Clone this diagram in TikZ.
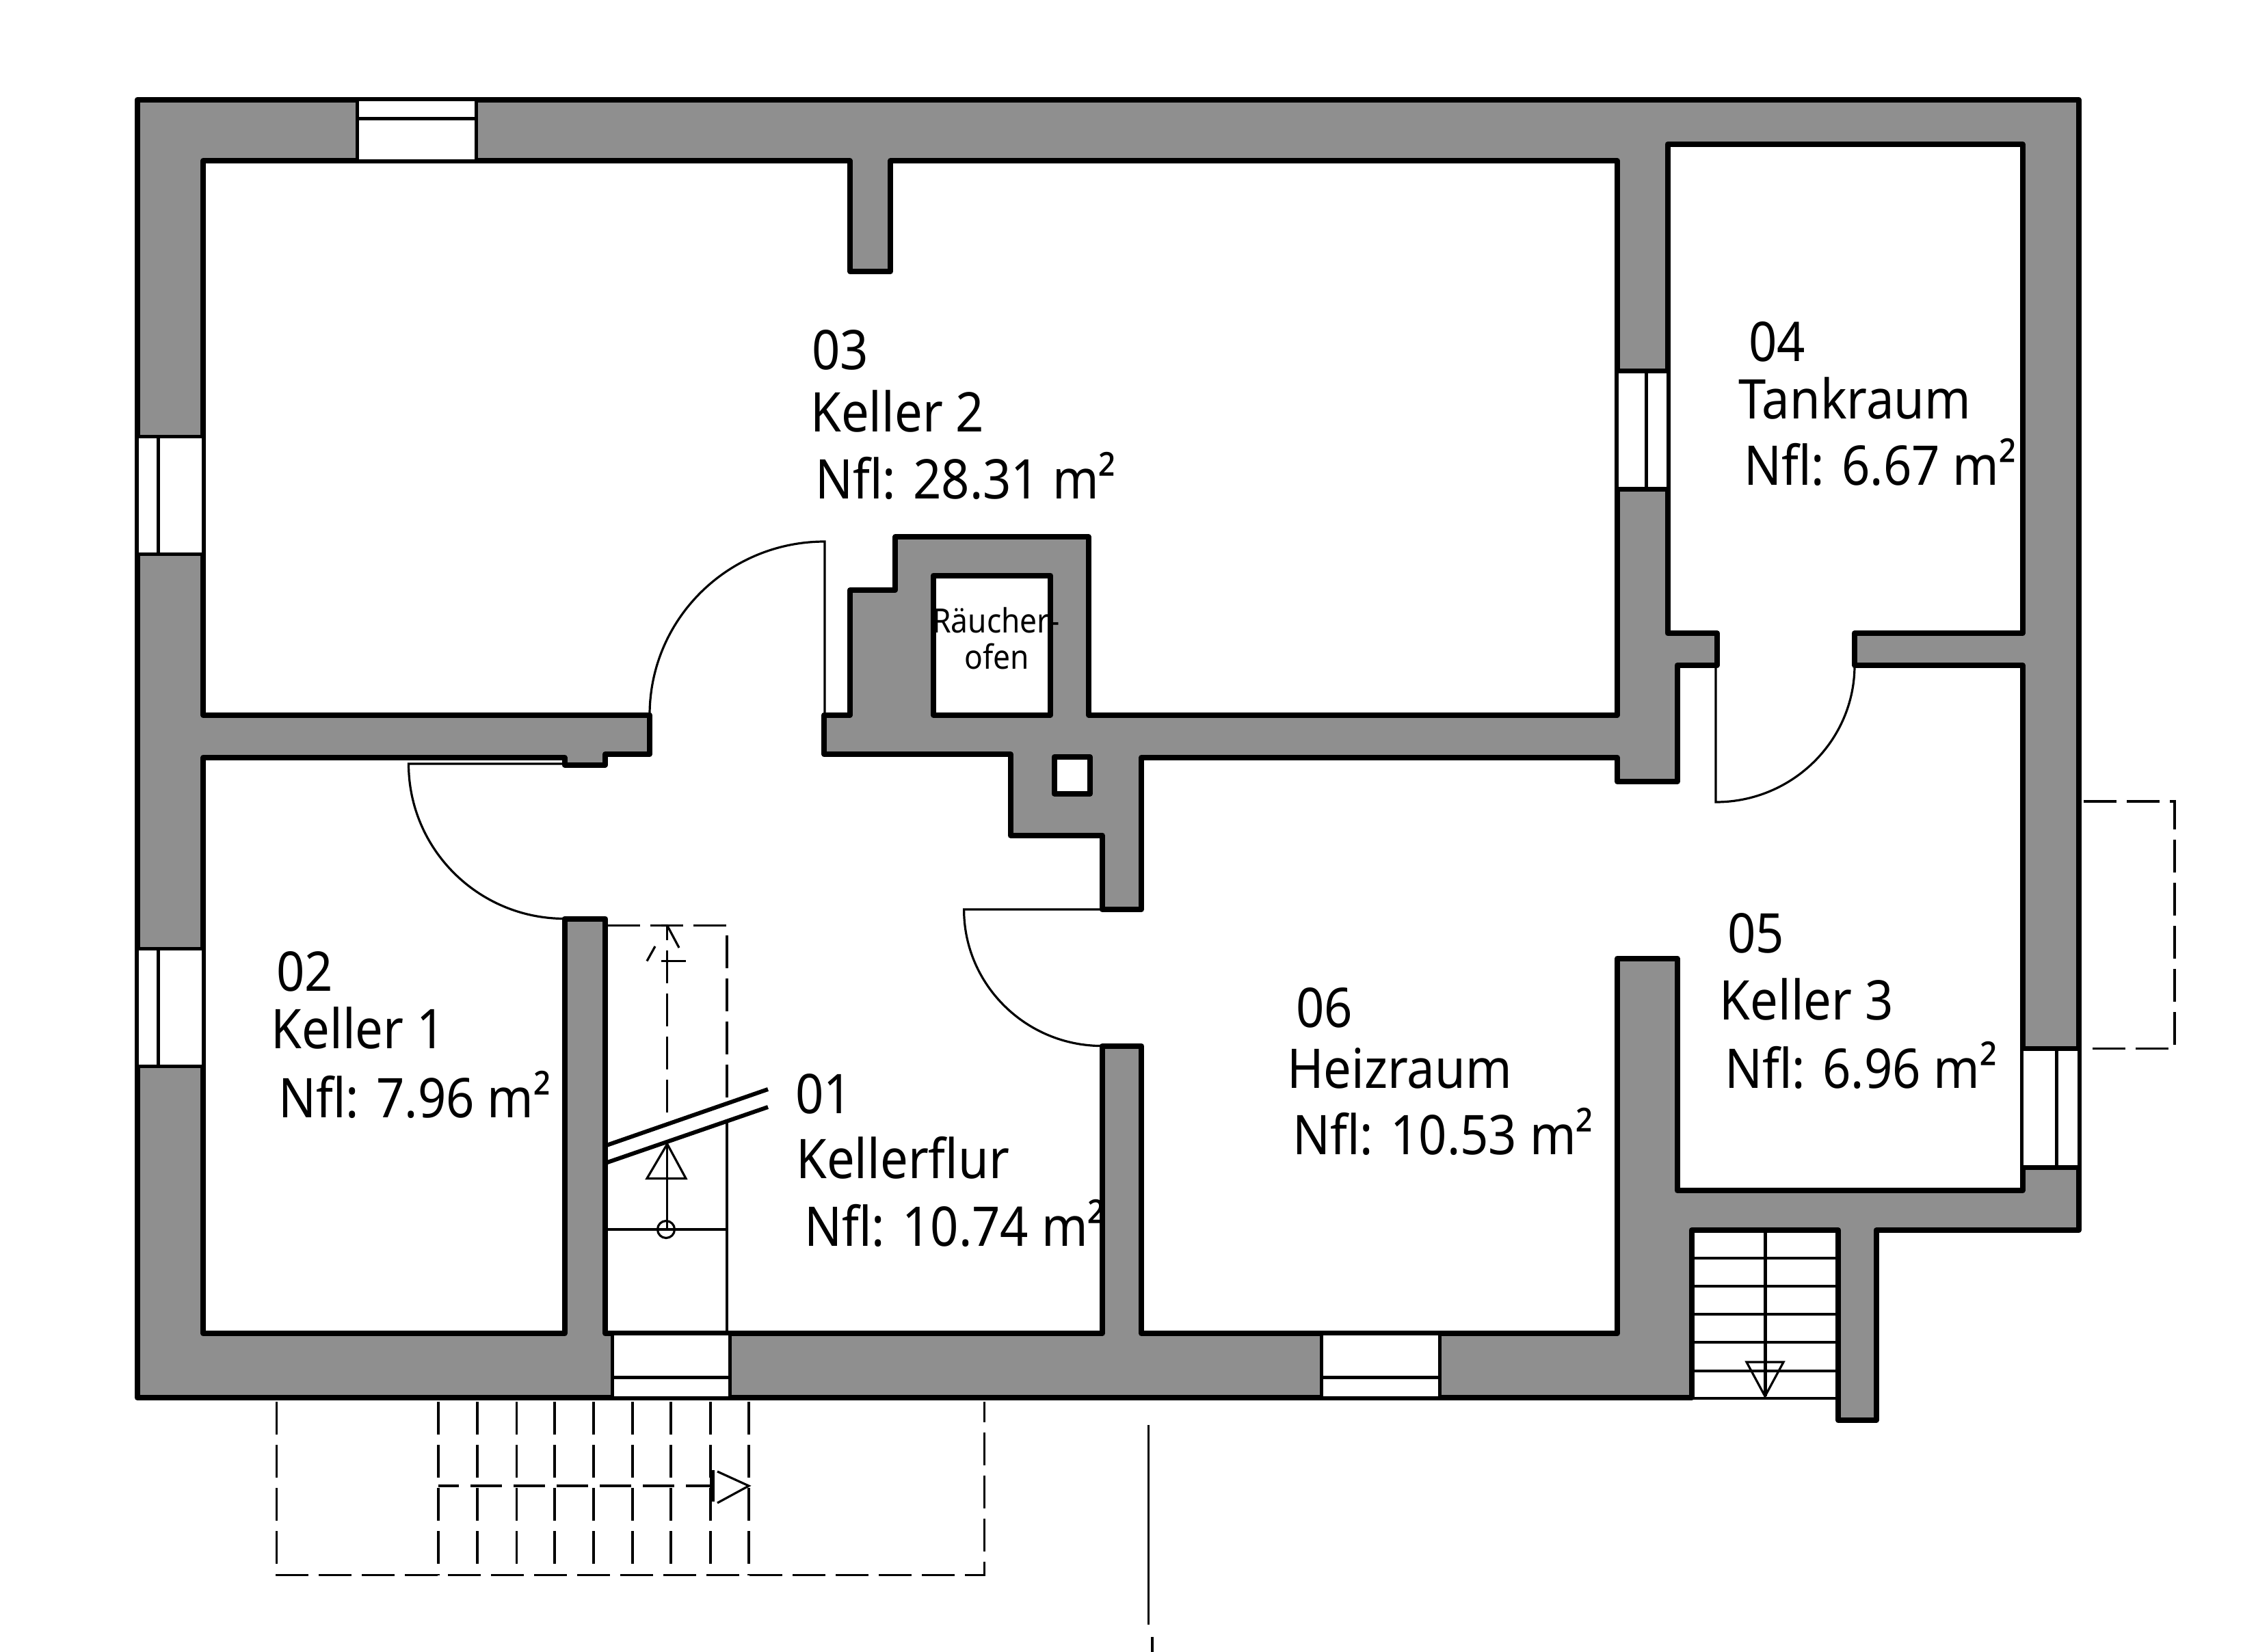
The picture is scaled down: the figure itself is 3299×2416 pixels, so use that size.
\documentclass[tikz,border=0pt]{standalone}
\usepackage{fontspec}
\setmainfont[FakeStretch=0.905]{Noto Sans}
\definecolor{wallgray}{HTML}{8F8F8F}
\tikzset{
  wall/.style={fill=wallgray,draw=black,line width=8pt,line join=round,even odd rule},
  winbox/.style={fill=white,draw=black,line width=5pt},
  winline/.style={draw=black,line width=5pt},
  thin line/.style={draw=black,line width=3.2pt},
  hidden line/.style={draw=black,line width=3.2pt,dash pattern=on 48pt off 15pt},
  roomlabel/.style={inner sep=0pt,anchor=base west,font=\fontsize{80}{90}\selectfont},
  smalllabel/.style={inner sep=0pt,anchor=base west,font=\fontsize{49}{60}\selectfont}
}
\begin{document}
\begin{tikzpicture}[x=1pt,y=-1pt]
\useasboundingbox (0,0) rectangle (3299,2416);
% text that the wall covers
\node[roomlabel] (flurarea) at (1176,1822.7) {Nfl: 10.74 m²};
% walls
\path[wall]
 (200.5,146) -- (3040,146) -- (3040,1799) -- (2743.7,1799) -- (2743.7,2077) -- (2688,2077) -- (2688,1799) -- (2473.6,1799) -- (2473.6,2044) -- (200.5,2044) -- cycle
 (297,235.4) -- (1243,235.4) -- (1243,397) -- (1302,397) -- (1302,235.4) -- (2365,235.4) -- (2365,1045.6) -- (1592,1045.6) -- (1592,785.4) -- (1309,785.4) -- (1309,863) -- (1243,863) -- (1243,1045.6) -- (1205,1045.6) -- (1205,1103) -- (1477.6,1103) -- (1477.6,1221.7) -- (1611.6,1221.7) -- (1611.6,1330) -- (1669,1330) -- (1669,1108) -- (2365,1108) -- (2365,1143) -- (2452.5,1143) -- (2452.5,973) -- (2511,973) -- (2511,926) -- (2438.5,926) -- (2438.5,211) -- (2957.6,211) -- (2957.6,926) -- (2712,926) -- (2712,973) -- (2957.6,973) -- (2957.6,1741) -- (2452.5,1741) -- (2452.5,1401.6) -- (2365,1401.6) -- (2365,1950) -- (1669,1950) -- (1669,1529.6) -- (1611.6,1529.6) -- (1611.6,1950) -- (885,1950) -- (885,1343.5) -- (825.5,1343.5) -- (825.5,1950) -- (297,1950) -- (297,1108) -- (825.5,1108) -- (825.5,1118.6) -- (885,1118.6) -- (885,1103) -- (950,1103) -- (950,1045.6) -- (297,1045.6) -- cycle
 (1365,841.5) rectangle (1536,1045.6)
 (1541.5,1107) rectangle (1594,1160.7);
% windows
\path[winbox] (522,146) rectangle (696,235.4);
\draw[winline] (522,174) -- (696,174);
\path[winbox] (200.5,638) rectangle (297,810);
\draw[winline] (231,638) -- (231,810);
\path[winbox] (200.5,1387.7) rectangle (297,1559);
\draw[winline] (231,1387.7) -- (231,1559);
\path[winbox,line width=3.5pt] (2365,542) rectangle (2438.5,715);
\draw[winline] (2407,542) -- (2407,715);
\draw[winline,line width=7pt] (2365,542) -- (2438.5,542) (2365,715) -- (2438.5,715);
\path[winbox,line width=3.5pt] (2957.6,1533.5) rectangle (3040,1707);
\draw[winline] (3007,1533.5) -- (3007,1707);
\draw[winline,line width=7pt] (2957.6,1533.5) -- (3040,1533.5) (2957.6,1707) -- (3040,1707);
\path[winbox] (895,1950) rectangle (1067.6,2044);
\draw[winline] (895,2014) -- (1067.6,2014);
\path[winbox] (1932,1950) rectangle (2105.5,2044);
\draw[winline] (1932,2014) -- (2105.5,2014);
% doors
\draw[thin line] (950,1045.6) .. controls (950,905) and (1065,792) .. (1206,792) -- (1206,1045.6);
\draw[thin line] (825.5,1117) -- (597.5,1117) .. controls (597.5,1242) and (699.5,1343.5) .. (825.5,1343.5);
\draw[thin line] (1611.6,1330) -- (1409.6,1330) .. controls (1409.6,1440) and (1500,1529.6) .. (1611.6,1529.6);
\draw[thin line] (2509,973) -- (2509,1173) .. controls (2621,1173) and (2712,1083) .. (2712,973);
% inner stair (flur)
\draw[thin line] (1063,1642) -- (1063,1950);
\draw[thin line] (888,1798) -- (1063,1798);
\draw[hidden line] (888,1353.5) -- (1063,1353.5) -- (1063,1611);
\draw[thin line] (975.7,1798) -- (975.7,1673);
\draw[thin line] (946,1723.5) -- (1003,1723.5) -- (975.7,1673) -- cycle;
\draw[thin line] (974,1798) circle[radius=12.5];
\draw[hidden line] (975.7,1626.5) -- (975.7,1353.5);
\draw[thin line] (946,1405.5) -- (958,1384);
\draw[thin line] (967,1353.5) -- (975.7,1353.5) -- (993,1386);
\draw[thin line] (967,1405.5) -- (1003,1405.5);
\draw[black,line width=6pt] (888,1674.6) -- (1123,1593);
\draw[black,line width=6pt] (888,1700) -- (1123,1619);
% outer stair
\foreach \yy in {1840,1881,1922,1963,2005} {\draw[black,line width=4.5pt] (2473.6,\yy) -- (2688,\yy);}
\draw[black,line width=3.5pt] (2473.6,2045) -- (2688,2045);
\draw[black,line width=5pt] (2581,1799) -- (2581,2042);
\draw[thin line] (2554,1992) -- (2608,1992) -- (2581,2042) -- cycle;
% outlines seen through the plan: terrace and steps
\draw[hidden line] (404.6,2050) -- (404.6,2303.5) -- (1439.7,2303.5) -- (1439.7,2050);
\foreach \xx in {641,755.4,811,925,981,1095} {\draw[hidden line] (\xx,2050) -- (\xx,2303.5);}
\foreach \xx in {698,868,1039} {\draw[hidden line,line width=4.5pt] (\xx,2050) -- (\xx,2303.5);}
\draw[hidden line,dash pattern=on 46pt off 17pt,dash phase=16pt] (641,2173) -- (1040,2173);
\draw[thin line] (1049,2152) -- (1095,2173) -- (1049,2198);
\draw[black,line width=7pt] (1041,2150) -- (1041,2196);
\draw[hidden line] (3047,1172) -- (3180,1172) -- (3180,1533.5) -- (3047,1533.5);
% section line
\draw[thin line] (1679.6,2084) -- (1679.6,2376.4);
\draw[thin line] (1685,2394) -- (1685,2416);
% labels
\node[roomlabel] (n03) at (1187,540.5) {03};
\node[roomlabel] (k03) at (1185,631) {Keller 2};
\node[roomlabel] (a03) at (1192,729) {Nfl: 28.31 m²};
\node[smalllabel] (ra1) at (1363,925.7) {Räucher-};
\node[smalllabel] (ra2) at (1410,978) {ofen};
\node[roomlabel] (n04) at (2557,528) {04};
\node[roomlabel] (k04) at (2542,612) {Tankraum};
\node[roomlabel] (a04) at (2550,709) {Nfl: 6.67 m²};
\node[roomlabel] (n02) at (404,1449.7) {02};
\node[roomlabel] (k02) at (396.5,1533.5) {Keller 1};
\node[roomlabel] (a02) at (407,1634) {Nfl: 7.96 m²};
\node[roomlabel] (n01) at (1163,1628) {01};
\node[roomlabel] (k01) at (1164,1723.5) {Kellerflur};
\node[roomlabel] (n06) at (1895,1502.4) {06};
\node[roomlabel] (k06) at (1882,1591.6) {Heizraum};
\node[roomlabel] (a06) at (1890,1688.6) {Nfl: 10.53 m²};
\node[roomlabel] (n05) at (2526,1393) {05};
\node[roomlabel] (k05) at (2514.6,1491.4) {Keller 3};
\node[roomlabel] (a05) at (2522,1591) {Nfl: 6.96 m²};
\end{tikzpicture}
\end{document}
